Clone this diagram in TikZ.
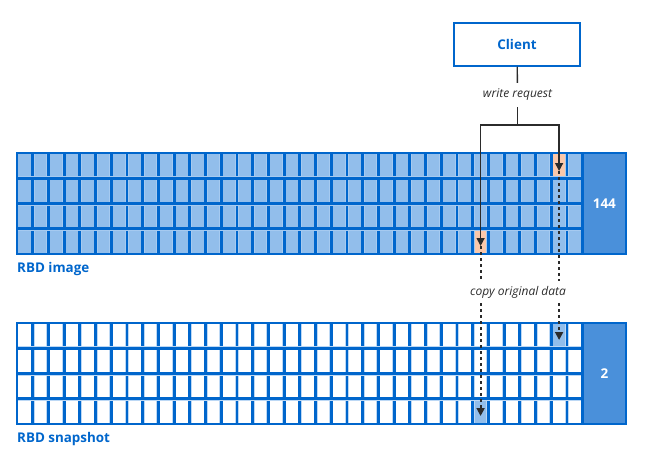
\documentclass[tikz,border=0pt]{standalone}
\usepackage{fontspec}
\setmainfont{Open Sans}
\usetikzlibrary{arrows.meta}
\definecolor{rhblue}{HTML}{0066CC}
\definecolor{cellblue}{HTML}{92BEEB}
\definecolor{imgfringe}{HTML}{A6CAF0}
\definecolor{snapfringe}{HTML}{BCD8F5}
\definecolor{boxblue}{HTML}{4A90DA}
\definecolor{copied}{HTML}{FBC8AA}
\definecolor{ink}{HTML}{2B2B2B}
\tikzset{
	gridline/.style={rhblue, line width=2.8pt},
	fringeline/.style={line width=4pt},
	countbox/.style={fill=boxblue, text=white, inner sep=0pt, minimum width=43.3pt, minimum height=101pt, font=\fontsize{13.5}{15}\bfseries\selectfont},
	blocktitle/.style={anchor=base west, inner sep=0pt, text=rhblue, font=\fontsize{13.4}{15}\bfseries\selectfont},
	clientbox/.style={draw=rhblue, line width=1.5pt, fill=white, minimum width=126pt, minimum height=43pt, text=rhblue, font=\fontsize{13.4}{15}\bfseries\selectfont},
	flowtext/.style={inner xsep=2pt, inner ysep=6pt, text=ink, font=\fontsize{12}{14}\itshape\selectfont},
	flow/.style={ink, line width=1.4pt},
	copyflow/.style={ink, line width=1.8pt, dash pattern=on 3pt off 3pt},
	tip/.style={-{Triangle[length=8pt,width=8pt]}}
}
\begin{document}
\begin{tikzpicture}[x=1pt, y=-1pt]
		\useasboundingbox (0, 0) rectangle (646, 452);
		% the two block maps: 36 x 4 cells each
		\foreach \gtop/\gfill/\gfringe/\ghit/\gcount/\gname in {153/cellblue/imgfringe/copied/144/image, 323/white/snapfringe/cellblue/2/snapshot}{
			\fill[\gfill] (17, \gtop) rectangle ++(565.7, 101);
			\fill[\ghit] (17 + 29*15.714, \gtop + 3*25.25) rectangle ++(15.714, 25.25);
			\fill[\ghit] (17 + 34*15.714, \gtop) rectangle ++(15.714, 25.25);
			\foreach \c in {1, 2, ..., 35}{
				\draw[fringeline, \gfringe] (17 + \c*15.714, \gtop) -- ++(0, 101);
				\draw[gridline] (17 + \c*15.714, \gtop) -- ++(0, 101);
			}
			\foreach \r in {1, 2, 3}{
				\draw[fringeline, \gfringe] (17, \gtop + \r*25.25) -- ++(565.7, 0);
				\draw[gridline] (17, \gtop + \r*25.25) -- ++(565.7, 0);
			}
			\node[countbox] (count-\gname) at (604.35, \gtop + 50.5) {\gcount};
			\draw[gridline] (17, \gtop) rectangle (626, \gtop + 101);
			\draw[gridline] (582.7, \gtop) -- ++(0, 101);
		}
		\node[blocktitle] (title-image) at (17, 272.5) {RBD image};
		\node[blocktitle] (title-snapshot) at (17, 442) {RBD snapshot};

		% write request and copy-on-write
		\node[clientbox] (client) at (517, 44.5) {Client};
		\node[flowtext] (write) at (517.5, 95) {write request};
		\node[flowtext, inner ysep=5pt] (copy) at (518, 292) {copy original data};
		\coordinate (fork) at (517.5, 125);
		\coordinate (hitA) at (480.6, 246);
		\coordinate (hitB) at (559.1, 171);
		\coordinate (saveA) at (480.6, 416);
		\coordinate (saveB) at (559.1, 340);
		\draw[flow] (client) -- (write);
		\draw[flow] (write) -- (fork);
		\draw[flow, tip] (fork) -| (hitA);
		\draw[flow, tip] (fork) -| (hitB);
		\draw[copyflow] (hitA) -- (hitA |- copy.north);
		\draw[copyflow, tip] (hitA |- copy.south) -- (saveA);
		\draw[copyflow] (hitB) -- (hitB |- copy.north);
		\draw[copyflow, tip] (hitB |- copy.south) -- (saveB);
	\end{tikzpicture}
\end{document}
